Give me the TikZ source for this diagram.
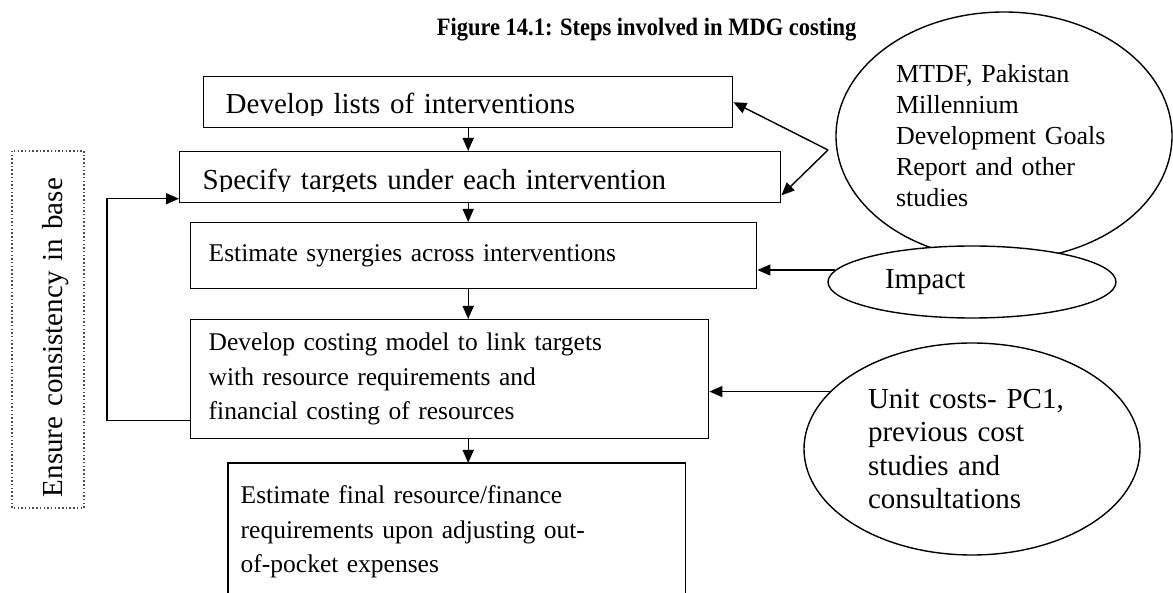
\documentclass[tikz,border=0pt]{standalone}
\usepackage{fontspec}
\setmainfont{Liberation Serif}
\usetikzlibrary{arrows.meta,shapes.geometric}
\begin{document}
\begin{tikzpicture}[x=1pt,y=1pt,line width=1.4pt,
    box/.style={draw,anchor=north west,align=left,inner ysep=0pt},
    oval/.style={draw,ellipse,fill=white,inner sep=0pt,align=left},
    arr/.style={-{Triangle[length=13pt,width=11pt]}},
    big/.style={font=\fontsize{29}{33.5}\selectfont},
    small/.style={font=\fontsize{25.5}{34.5}\selectfont}]
    \useasboundingbox (0,0) rectangle (1173,-593);
    \node[font=\fontsize{25}{28}\selectfont\bfseries,xscale=0.9,anchor=base east] (title) at (860,-36) {Figure 14.1: Steps involved in MDG costing};
    \node[box,big,text width=485,inner xsep=22,minimum height=51,text height=23pt,text depth=0pt] (lists) at (203,-76) {Develop lists of interventions};
    \node[box,big,text width=555,inner xsep=23,minimum height=51,text height=25pt,text depth=0pt] (targets) at (179,-151) {Specify targets under each intervention};
    \node[box,small,text width=530,inner xsep=18,minimum height=66] (synergy) at (190,-222) {Estimate synergies across interventions};
    \node[box,small,text width=482,inner xsep=18,minimum height=119] (model) at (190,-319) {Develop costing model to link targets\\with resource requirements and\\financial costing of resources};
    \node[anchor=north west,align=left,small,text width=432,inner xsep=12,inner ysep=22] (final) at (228,-463) {Estimate final resource/finance\\requirements upon adjusting out-\\of-pocket expenses};
    \draw ([yshift=-200pt]final.north west) -- (final.north west) -- (final.north east) -- ([yshift=-200pt]final.north east);
    \fill[white] ([xshift=2.5pt,yshift=2.5pt]lists.south west) rectangle ([xshift=-2.5pt,yshift=12pt]lists.south east);
    \fill[white] ([xshift=2.5pt,yshift=2.5pt]targets.south west) rectangle ([xshift=-2.5pt,yshift=11pt]targets.south east);
    \node[draw=black!70,dash pattern=on 1.5pt off 2.2pt,line width=1.3pt,rotate=90,minimum width=357,minimum height=72,text width=335,inner xsep=11,inner ysep=0pt,align=left,text height=28pt,text depth=0pt,big] (base) at (48,-329.5) {Ensure consistency in base};
    \node[oval,minimum width=336,minimum height=248,text width=216,font=\fontsize{26}{31}\selectfont] (mtdf) at (1004,-136) {MTDF, Pakistan\\Millennium\\Development Goals\\Report and other\\studies};
    \node[oval,big,minimum width=288,minimum height=72,text width=174] (impact) at (972,-282) {Impact};
    \node[oval,big,minimum width=336,minimum height=212,text width=208] (unit) at (972,-449) {Unit costs- PC1,\\previous cost\\studies and\\consultations};
    \coordinate (fork) at (828,-150);
    \draw[arr] (fork) -- (lists.east);
    \draw[arr] (fork) -- ([yshift=8pt]targets.south east);
    \draw[arr] (impact.175) -- (impact.175 -| synergy.east);
    \draw[arr] (unit.158) -- (unit.158 -| model.east);
    \draw[arr] (lists.south) -- (targets.north -| lists.south);
    \draw[arr] (targets.south -| lists.south) -- (synergy.north -| lists.south);
    \draw[arr] (synergy.south -| lists.south) -- (model.north -| lists.south);
    \draw[arr] (model.south -| lists.south) -- (final.north -| lists.south);
    \draw[arr] ([yshift=-41.5pt]model.west) -- ++(-83pt,0) |- ([yshift=-21.5pt]targets.west);
\end{tikzpicture}
\end{document}
